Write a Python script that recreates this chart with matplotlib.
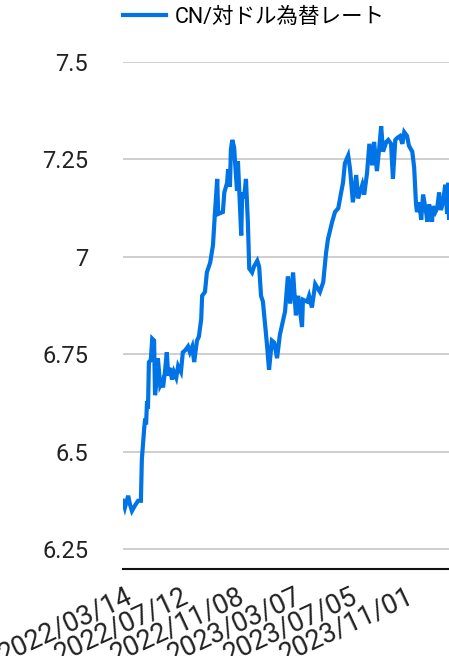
import matplotlib.pyplot as plt
import matplotlib.transforms as mtransforms

# days since 2022/03/14
days = [0, 4, 11, 15, 19, 25, 32, 38, 40, 45, 47, 49, 51, 53, 55, 59, 62, 66, 68, 72,
        74, 79, 83, 85, 89, 93, 96, 100, 104, 108, 113, 117, 123, 127, 132, 138, 142, 147, 151, 157,
        161, 166, 168, 174, 178, 185, 191, 195, 200, 202, 212, 215, 221, 223, 227, 229, 232, 236, 238, 242,
        244, 251, 253, 257, 261, 265, 268, 274, 278, 285, 289, 293, 297, 306, 310, 316, 321, 327, 333, 344,
        350, 355, 361, 367, 372, 380, 382, 391, 395, 401, 408, 418, 425, 431, 435, 444, 450, 457, 463, 467,
        471, 478, 482, 488, 495, 499, 508, 512, 518, 523, 529, 533, 539, 544, 548, 552, 559, 563, 569, 573,
        578, 582, 588, 593, 597, 603, 607, 614, 618, 622, 624, 629, 633, 637, 644, 646, 650, 656, 658, 663,
        667, 671, 675, 680, 684, 688, 690, 692]
rate = [6.374, 6.356, 6.387, 6.364, 6.348, 6.361, 6.374, 6.374, 6.48, 6.56, 6.585, 6.57, 6.63, 6.61, 6.73, 6.735, 6.79, 6.785, 6.645, 6.69,
        6.74, 6.67, 6.68, 6.665, 6.705, 6.755, 6.695, 6.715, 6.685, 6.705, 6.69, 6.72, 6.705, 6.755, 6.76, 6.77, 6.755, 6.77, 6.73, 6.785,
        6.795, 6.84, 6.90, 6.91, 6.96, 6.985, 7.03, 7.11, 7.20, 7.11, 7.115, 7.165, 7.19, 7.225, 7.18, 7.275, 7.30, 7.28, 7.24, 7.17,
        7.245, 7.055, 7.165, 7.15, 7.20, 7.09, 6.97, 6.96, 6.975, 6.99, 6.975, 6.90, 6.885, 6.77, 6.71, 6.785, 6.78, 6.74, 6.80, 6.86,
        6.95, 6.88, 6.96, 6.85, 6.90, 6.82, 6.89, 6.885, 6.90, 6.87, 6.93, 6.91, 6.935, 7.01, 7.045, 7.09, 7.115, 7.125, 7.165, 7.19,
        7.24, 7.26, 7.225, 7.14, 7.21, 7.15, 7.185, 7.16, 7.215, 7.29, 7.235, 7.295, 7.22, 7.28, 7.335, 7.27, 7.295, 7.30, 7.29, 7.20,
        7.30, 7.305, 7.31, 7.29, 7.32, 7.31, 7.285, 7.27, 7.23, 7.135, 7.115, 7.14, 7.095, 7.16, 7.11, 7.09, 7.135, 7.09, 7.13, 7.115,
        7.125, 7.165, 7.12, 7.145, 7.185, 7.11, 7.19, 7.10]

tick_days = [0, 120, 239, 358, 478, 597]
tick_labels = ['2022/03/14', '2022/07/12', '2022/11/08', '2023/03/07', '2023/07/05', '2023/11/01']
y_ticks = [6.25, 6.5, 6.75, 7, 7.25, 7.5]
y_labels = ['6.25', '6.5', '6.75', '7', '7.25', '7.5']

plt.rcParams['font.family'] = ['Roboto', 'Noto Sans CJK JP', 'DejaVu Sans']

fig = plt.figure(figsize=(4.49, 6.56), dpi=100)
ax = fig.add_axes([123/449, 1-569/656, 1-123/449, (569-62)/656])
line, = ax.plot(days, rate, color='#0073e6', lw=3, label='CN/対ドル為替レート', solid_joinstyle='miter')

ax.set_xlim(0, 692)
ax.set_ylim(6.199, 7.5)
ax.set_yticks(y_ticks)
ax.set_yticklabels(y_labels)
ax.set_xticks(tick_days)
ax.set_xticklabels(tick_labels, rotation=25, ha='right', rotation_mode='anchor')
ax.tick_params(axis='both', length=0, colors='#222222')
ax.tick_params(axis='y', pad=25, labelsize=17)
ax.tick_params(axis='x', pad=10, labelsize=19.5)
shift = mtransforms.ScaledTranslation(2/100, 0, fig.dpi_scale_trans)
for lab in ax.get_xticklabels():
    lab.set_transform(lab.get_transform() + shift)
ax.grid(axis='y', color='#cccccc', lw=1.3)
ax.set_axisbelow(True)
for s in ['top', 'right', 'left']:
    ax.spines[s].set_visible(False)
ax.spines['bottom'].set_color('#111111')
ax.spines['bottom'].set_linewidth(1.5)

fig.legend(handles=[line], loc='center left', bbox_to_anchor=(123/449, 1-17/656),
           frameon=False, fontsize=15.5, handlelength=2.0, handletextpad=0.4,
           borderpad=0, borderaxespad=0)

fig.savefig('out.png')
